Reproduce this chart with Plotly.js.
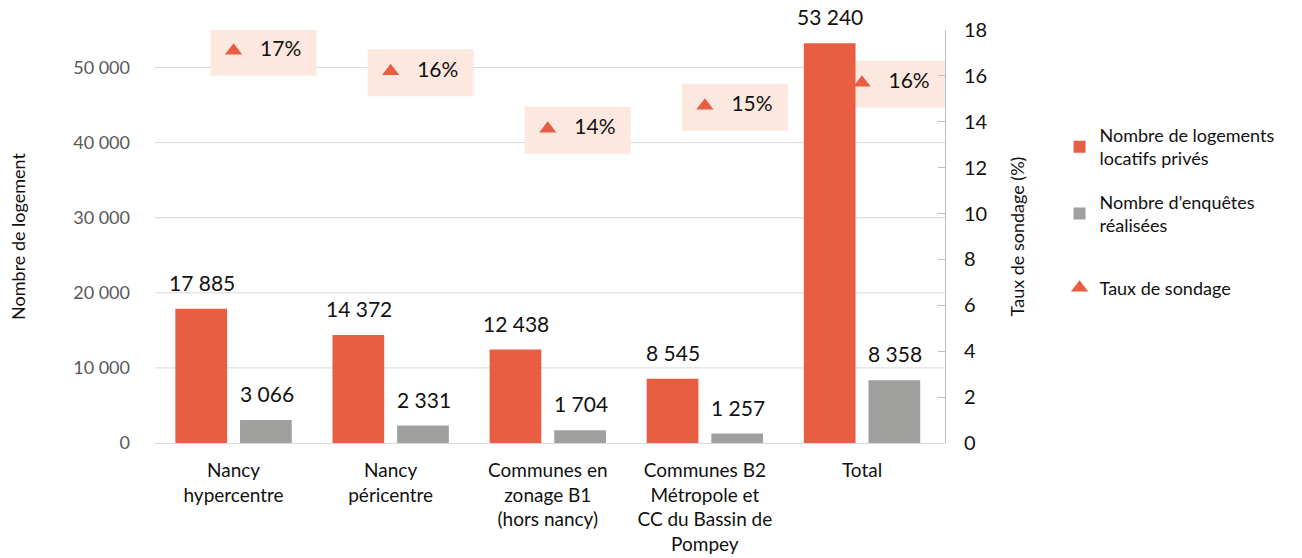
<!DOCTYPE html>
<html><head><meta charset="utf-8">
<script src="https://cdn.plot.ly/plotly-3.0.1.min.js"></script>
<style>html,body{margin:0;padding:0;background:#fff}#chart{width:1302px;height:558px}</style>
</head><body><div id="chart"></div>
<script>
const categories = ["Nancy<br>hypercentre", "Nancy<br>péricentre", "Communes en<br>zonage B1<br>(hors nancy)", "Communes B2<br>Métropole et<br>CC du Bassin de<br>Pompey", "Total"];
const logements = [17885, 14372, 12438, 8545, 53240];
const enquetes = [3066, 2331, 1704, 1257, 8358];
const taux = [17.1, 16.2, 13.7, 14.7, 15.7];
const leftTicks = [0, 10000, 20000, 30000, 40000, 50000];

const FONT = "Lato, 'Source Sans Pro', 'Noto Sans', sans-serif";
const RED = "#E95E42", GREY = "#A0A09F", BOX = "#FCE8DE", TXT = "#111111";

const traces = [
  {type: "bar", name: "Nombre de logements<br>locatifs privés", x: categories, y: logements,
   marker: {color: RED}, hoverinfo: "y", legendgroup: "a"},
  {type: "bar", name: "Nombre d’enquêtes<br>réalisées", x: categories, y: enquetes,
   marker: {color: GREY}, hoverinfo: "y", legendgroup: "b"},
  {type: "scatter", mode: "markers+text", name: "Taux de sondage", x: categories, y: taux, yaxis: "y2",
   marker: {symbol: "triangle-up", size: 15, color: RED}, legend: "legend2",
   texttemplate: "   %{y:.0f}%", textposition: "middle right",
   textfont: {size: 21, color: TXT, family: FONT}, cliponaxis: false}
];

const fmt = v => String(v).replace(/\B(?=(\d{3})+(?!\d))/g, " ");
const annotations = [];
logements.forEach((v, i) => annotations.push({x: i, y: v, xref: "x", yref: "y", text: fmt(v), showarrow: false,
  xanchor: "center", yanchor: "bottom", xshift: -32, yshift: 12, font: {size: 21, color: TXT, family: FONT}}));
enquetes.forEach((v, i) => annotations.push({x: i, y: v, xref: "x", yref: "y", text: fmt(v), showarrow: false,
  xanchor: "center", yanchor: "bottom", xshift: 33, yshift: 12, font: {size: 21, color: TXT, family: FONT}}));

// gridlines as shapes so the label boxes can sit on top of them
const shapes = leftTicks.filter(t => t > 0).map(t => ({
  type: "line", layer: "below", xref: "paper", yref: "y", x0: 0, x1: 1, y0: t, y1: t,
  line: {color: "#d9d9d9", width: 1}
}));
taux.forEach((v, i) => shapes.push({
  type: "rect", layer: "below", xref: "x", yref: "y2",
  xsizemode: "pixel", ysizemode: "pixel", xanchor: i, yanchor: v,
  x0: -23, x1: 83, y0: -25, y1: 22,
  fillcolor: BOX, line: {width: 0}
}));

const layout = {
  width: 1302, height: 558,
  margin: {l: 155, r: 357, t: 30, b: 115},
  paper_bgcolor: "#fff", plot_bgcolor: "rgba(0,0,0,0)",
  font: {family: FONT, color: TXT, size: 18},
  separators: ", ",
  barmode: "group", bargap: 0.177, bargroupgap: 0.2,
  showlegend: true,
  legend: {x: 1.145, y: 0.79, xanchor: "left", yanchor: "top", font: {size: 18, color: TXT},
           tracegroupgap: 17, traceorder: "grouped", bgcolor: "rgba(0,0,0,0)"},
  legend2: {x: 1.145, y: 0.42, xanchor: "left", yanchor: "top", font: {size: 18, color: TXT}, bgcolor: "rgba(0,0,0,0)"},
  xaxis: {type: "category", showline: true, linecolor: "#d9d9d9", linewidth: 1, ticks: "",
          tickfont: {size: 19, color: TXT}, ticklabelstandoff: 10, showgrid: false, automargin: false},
  yaxis: {range: [0, 55000], tickvals: leftTicks, tickformat: ",d",
          showgrid: false, zeroline: false, showline: false,
          ticks: "", tickfont: {size: 18, color: "#595959"}, ticklabelstandoff: 24,
          title: {text: "Nombre de logement", font: {size: 18, color: TXT}, standoff: 42}, automargin: false},
  yaxis2: {overlaying: "y", side: "right", range: [0, 18], dtick: 2, showgrid: false, zeroline: false,
           showline: true, linecolor: "#bfbfbf", linewidth: 1, ticks: "inside", ticklen: 7, tickcolor: "#bfbfbf",
           tickfont: {size: 20, color: TXT}, ticklabelstandoff: 14,
           title: {text: "Taux de sondage (%)", font: {size: 18, color: TXT}, standoff: 24}, automargin: false},
  shapes: shapes,
  annotations: annotations
};

Plotly.newPlot("chart", traces, layout, {displayModeBar: false, staticPlot: true});
</script></body></html>
